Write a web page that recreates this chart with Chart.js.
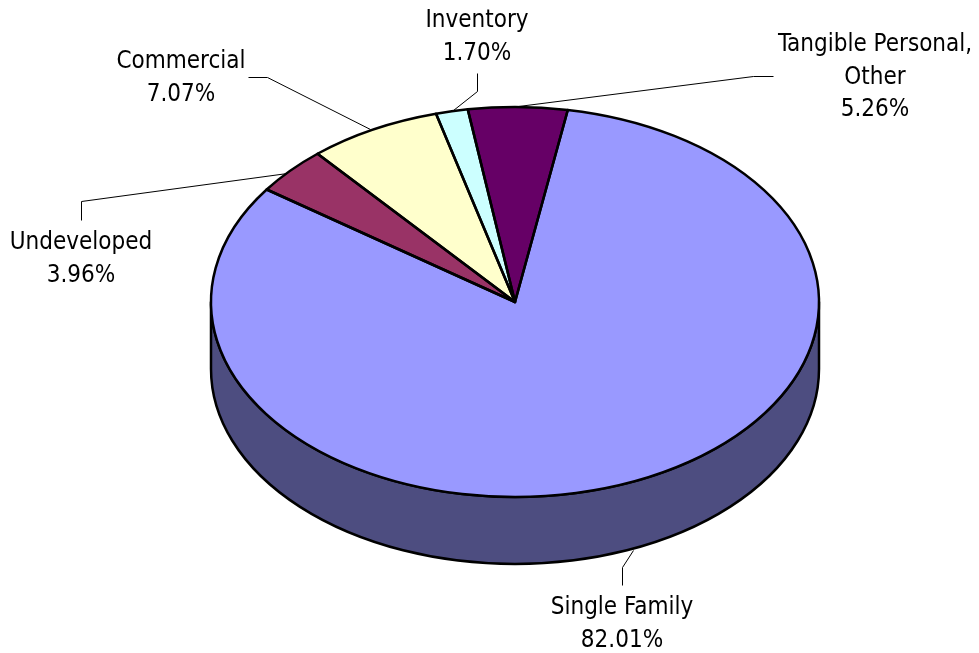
<!DOCTYPE html>
<html><head><meta charset="utf-8">
<style>html,body{margin:0;padding:0;background:#fff}#w{width:979px;height:653px}</style>
<script src="https://cdn.jsdelivr.net/npm/chart.js@4"></script>
</head><body><div id="w"><canvas id="c"></canvas></div>
<script>
const categories = ["Single Family","Undeveloped","Commercial","Inventory","Tangible Personal, Other"];
const values = [82.01,3.96,7.07,1.70,5.26];
const valueText = ["82.01%","3.96%","7.07%","1.70%","5.26%"];
const labelLines = [["Single Family"],["Undeveloped"],["Commercial"],["Inventory"],["Tangible Personal,","Other"]];
const colors = ["#9999FF","#993366","#FFFFCC","#CCFFFF","#660066"];
const sideColors = ["#4D4D80","#4D1A33","#808066","#668080","#330033"];

const squash = 195/304, depth = 67;
// leader line: elbow points then label centre x and first-line y
const leaders = [
 {pts:[[622,585],[622,567],[633,550]], x:622, y:608},
 {pts:[[81,220],[81,201],[287,173]], x:81, y:243},
 {pts:[[248,77],[267,77],[370,129]], x:181, y:62},
 {pts:[[477,73],[477,91],[453,110]], x:477, y:21},
 {pts:[[773,76],[753,76],[518,106]], x:875, y:45}
];
const pie3d = {
 id:'pie3d',
 beforeDatasetsDraw(chart){
  const arcs = chart.getDatasetMeta(0).data, ctx = chart.ctx;
  const {x:cx,y:cy,outerRadius:r} = arcs[0];
  ctx.save();
  arcs.forEach((a,i)=>{
    const segs = [[a.startAngle,a.endAngle],[a.startAngle-2*Math.PI,a.endAngle-2*Math.PI]];
    segs.forEach(([s0,e0])=>{
      const s = Math.max(s0,0), e = Math.min(e0,Math.PI);
      if(e<=s) return;
      ctx.beginPath();
      ctx.ellipse(cx,cy,r,r*squash,0,s,e);
      ctx.ellipse(cx,cy+depth,r,r*squash,0,e,s,true);
      ctx.closePath();
      ctx.fillStyle = sideColors[i]; ctx.fill();
      ctx.lineWidth=2.5; ctx.strokeStyle='#000'; ctx.lineJoin='round'; ctx.stroke();
    });
  });
  ctx.restore();
  ctx.save();
  ctx.translate(cx,cy); ctx.scale(1,squash); ctx.translate(-cx,-cy);
 },
 afterDatasetsDraw(chart){
  const arcs = chart.getDatasetMeta(0).data, ctx = chart.ctx;
  ctx.restore();
  const {x:cx,y:cy,outerRadius:r} = arcs[0];
  ctx.save();
  ctx.strokeStyle='#000'; ctx.lineWidth=2.5; ctx.lineJoin='round';
  arcs.forEach(a=>{
    ctx.beginPath();
    ctx.moveTo(cx,cy);
    ctx.ellipse(cx,cy,r,r*squash,0,a.startAngle,a.endAngle);
    ctx.closePath(); ctx.stroke();
  });
  ctx.lineWidth=1; ctx.fillStyle='#000';
  ctx.textAlign='center'; ctx.textBaseline='middle';
  ctx.font='24px "DejaVu Sans Condensed"';
  leaders.forEach((l,i)=>{
    ctx.beginPath();
    l.pts.forEach((p,k)=> k? ctx.lineTo(p[0]+.5,p[1]+.5):ctx.moveTo(p[0]+.5,p[1]+.5));
    ctx.stroke();
    labelLines[i].concat(valueText[i]).forEach((t,k)=>ctx.fillText(t,l.x,l.y+k*32.5));
  });
  ctx.restore();
 }
};
new Chart(document.getElementById('c'),{
 type:'pie',
 data:{labels:categories,datasets:[{data:values,backgroundColor:colors,borderWidth:0,clip:false}]},
 options:{responsive:true,maintainAspectRatio:false,animation:false,rotation:10,radius:304,
  layout:{padding:{left:51,bottom:49}},
  plugins:{legend:{display:false},tooltip:{enabled:false}}},
 plugins:[pie3d]
});
</script></body></html>
